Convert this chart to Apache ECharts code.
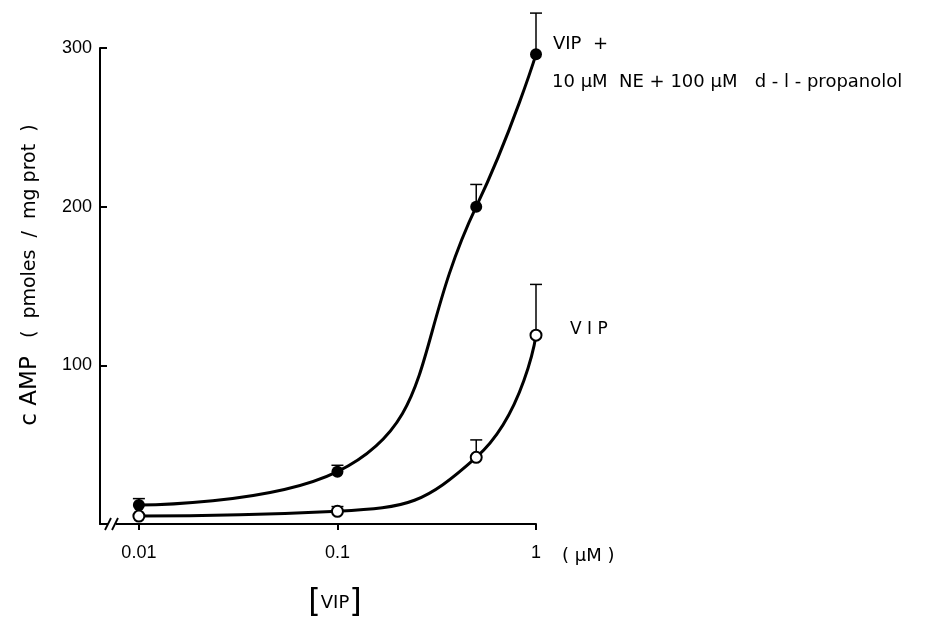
<!DOCTYPE html>
<html>
<head>
<meta charset="utf-8">
<script src="https://cdn.jsdelivr.net/npm/echarts@6/dist/echarts.min.js"></script>
<style>html,body{margin:0;padding:0;background:#fff}#c{width:926px;height:625px}</style>
</head>
<body>
<div id="c"></div>
<script>
// Data
const doses = [0.01, 0.1, 0.5, 1];                 // VIP concentration (µM)
const vipNeProp = [12, 33, 200, 296];             // VIP + 10µM NE + 100µM d-l-propanolol
const vipNePropErrTop = [16, 37, 214, 322];       // top of SEM bars
const vipOnly = [5, 8, 42, 119];                  // VIP alone
const vipOnlyErrTop = [null, 11, 53, 151];        // top of SEM bars
const xTickValues = [0.01, 0.1, 1];
const xTickLabels = ['0.01', '0.1', '1'];
const yTickValues = [100, 200, 300];

const FONT = '"DejaVu Sans", "Liberation Sans", sans-serif';
const NUMFONT = '"Liberation Sans", "DejaVu Sans", sans-serif';

function errData(vals, tops) {
  const out = [];
  doses.forEach((d, i) => { if (tops[i] != null) out.push([d, vals[i], tops[i]]); });
  return out;
}

function renderErr(params, api) {
  const x = api.value(0);
  const p0 = api.coord([x, api.value(1)]);
  const p1 = api.coord([x, api.value(2)]);
  const st = { stroke: '#000', lineWidth: 1.5 };
  return {
    type: 'group',
    children: [
      { type: 'line', shape: { x1: p0[0], y1: p0[1], x2: p1[0], y2: p1[1] }, style: st },
      { type: 'line', shape: { x1: p1[0] - 6, y1: p1[1], x2: p1[0] + 6, y2: p1[1] }, style: st }
    ]
  };
}

const chart = echarts.init(document.getElementById('c'), null, { renderer: 'canvas' });

chart.setOption({
  backgroundColor: '#fff',
  animation: false,
  grid: { left: 100, right: 390, top: 48, bottom: 101, containLabel: false },
  xAxis: {
    type: 'log',
    logBase: 10,
    min: 0.00637,
    max: 1,
    axisLine: { show: true, lineStyle: { color: '#000', width: 2 } },
    axisTick: { show: true, inside: false, length: 6, lineStyle: { color: '#000', width: 2 }, customValues: xTickValues },
    axisLabel: {
      customValues: xTickValues,
      formatter: v => {
        const i = xTickValues.findIndex(t => Math.abs(t - v) / t < 1e-6);
        return i >= 0 ? xTickLabels[i] : '';
      },
      color: '#000', fontSize: 18, fontFamily: NUMFONT, margin: 20
    },
    splitLine: { show: false }
  },
  yAxis: {
    type: 'value',
    min: 0,
    max: 300,
    interval: 100,
    axisLine: { show: true, lineStyle: { color: '#000', width: 2 } },
    axisTick: { show: true, inside: true, length: 7, lineStyle: { color: '#000', width: 2 }, customValues: yTickValues },
    axisLabel: { customValues: yTickValues, color: '#000', fontSize: 18, fontFamily: NUMFONT, margin: 8 },
    splitLine: { show: false }
  },
  series: [
    {
      type: 'custom',
      name: 'errA',
      data: errData(vipNeProp, vipNePropErrTop),
      renderItem: renderErr,
      clip: false,
      z: 1
    },
    {
      type: 'custom',
      name: 'errB',
      data: errData(vipOnly, vipOnlyErrTop),
      renderItem: renderErr,
      clip: false,
      z: 1
    },
    {
      type: 'line',
      name: 'VIP + NE + propanolol',
      data: doses.map((d, i) => [d, vipNeProp[i]]),
      smooth: 0.5,
      symbol: 'circle',
      symbolSize: 12,
      showAllSymbol: true,
      lineStyle: { color: '#000', width: 3 },
      itemStyle: { color: '#000', borderColor: '#000', borderWidth: 0 },
      clip: false,
      z: 3
    },
    {
      type: 'line',
      name: 'VIP',
      data: doses.map((d, i) => [d, vipOnly[i]]),
      smooth: 0.5,
      symbol: 'circle',
      symbolSize: 11,
      showAllSymbol: true,
      lineStyle: { color: '#000', width: 3 },
      itemStyle: { color: '#fff', borderColor: '#000', borderWidth: 2 },
      clip: false,
      z: 4
    }
  ],
  graphic: [
    // axis break marks
    { type: 'rect', shape: { x: 108, y: 520, width: 8, height: 8 }, style: { fill: '#fff' }, z: 100 },
    { type: 'line', shape: { x1: 105, y1: 530, x2: 111, y2: 518 }, style: { stroke: '#000', lineWidth: 1.8 }, z: 101 },
    { type: 'line', shape: { x1: 112, y1: 530, x2: 118, y2: 518 }, style: { stroke: '#000', lineWidth: 1.8 }, z: 101 },
    // series labels
    { type: 'text', x: 553, y: 44, style: { text: 'VIP  +', fontSize: 18, fontFamily: FONT, fill: '#000', textVerticalAlign: 'middle' } },
    { type: 'text', x: 552, y: 82, style: { text: '10 µM  NE + 100 µM   d - l - propanolol', fontSize: 18, fontFamily: FONT, fill: '#000', textVerticalAlign: 'middle' } },
    { type: 'text', x: 570, y: 330, style: { text: 'V I P', fontSize: 17, fontFamily: FONT, fill: '#000', textVerticalAlign: 'middle' } },
    // x unit and axis title
    { type: 'text', x: 562, y: 556, style: { text: '( µM )', fontSize: 18, fontFamily: FONT, fill: '#000', textVerticalAlign: 'middle' } },
    { type: 'text', x: 335, y: 603, style: {
        text: '{b|[}{t|VIP}{b|]}',
        rich: { b: { fontSize: 32, fontFamily: FONT, fill: '#000' }, t: { fontSize: 18, fontFamily: FONT, fill: '#000' } },
        textAlign: 'center', textVerticalAlign: 'middle' } },
    // y axis title
    { type: 'text', x: 30, y: 275, rotation: Math.PI / 2, style: {
        text: '{a|c AMP}{r|   (  pmoles  /  mg prot  )}',
        rich: { a: { fontSize: 23, fontFamily: FONT, fill: '#000' }, r: { fontSize: 19, fontFamily: FONT, fill: '#000' } },
        textAlign: 'center', textVerticalAlign: 'middle' } }
  ]
});
</script>
</body>
</html>
